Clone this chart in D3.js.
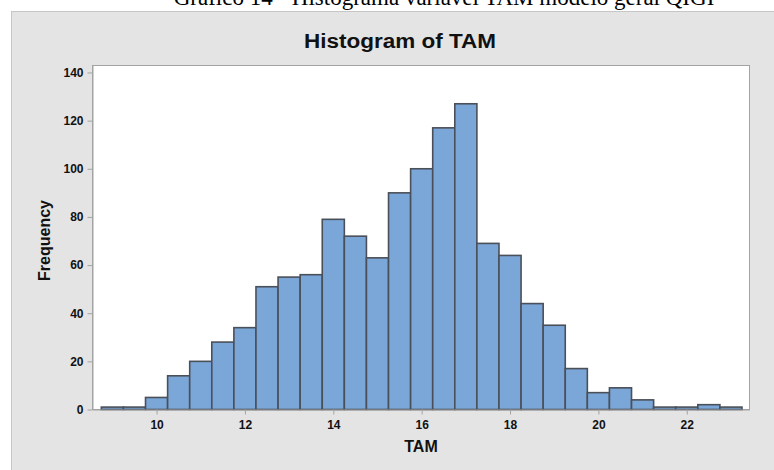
<!DOCTYPE html>
<html>
<head>
<meta charset="utf-8">
<script src="https://cdn.jsdelivr.net/npm/d3@7"></script>
<style>
  html, body { margin: 0; padding: 0; background: #ffffff; }
  svg { display: block; }
  text { font-family: "Liberation Sans", Arial, sans-serif; }
</style>
</head>
<body>
<svg id="chart" width="774" height="470"></svg>
<script>
// Histogram bins of TAM: bin midpoints (width 0.5) and their frequencies
const binMids = [9, 9.5, 10, 10.5, 11, 11.5, 12, 12.5, 13, 13.5, 14, 14.5, 15, 15.5,
                 16, 16.5, 17, 17.5, 18, 18.5, 19, 19.5, 20, 20.5, 21, 21.5, 22, 22.5, 23];
const frequencies = [1, 1, 5, 14, 20, 28, 34, 51, 55, 56, 79, 72, 63, 90,
                     100, 117, 127, 69, 64, 44, 35, 17, 7, 9, 4, 1, 1, 2, 1];
const binWidth = 0.5;
const xTicks = [10, 12, 14, 16, 18, 20, 22];
const yTicks = [0, 20, 40, 60, 80, 100, 120, 140];

const svg = d3.select("#chart");

// caption above the graph panel (partly clipped by the top edge)
svg.append("text")
  .attr("x", 444).attr("y", 5)
  .attr("text-anchor", "middle")
  .style("font-family", "'Liberation Serif', 'Times New Roman', serif")
  .style("font-size", "23px")
  .attr("fill", "#000")
  .text("Gráfico 14 - Histograma variável TAM modelo geral QIGI");

// graph panel
svg.append("rect")
  .attr("x", 11.5).attr("y", 11.5)
  .attr("width", 800).attr("height", 500)
  .attr("fill", "#e4e4e4")
  .attr("stroke", "#c6c6c6");

const plot = { left: 92.5, right: 749.5, top: 65.5, bottom: 409.5 };

const x = d3.scaleLinear().domain([8.55, 23.42]).range([plot.left, plot.right]);
const y = d3.scaleLinear().domain([0, 142.9]).range([plot.bottom, plot.top]);

// plot area
svg.append("rect")
  .attr("x", plot.left).attr("y", plot.top)
  .attr("width", plot.right - plot.left).attr("height", plot.bottom - plot.top)
  .attr("fill", "#ffffff")
  .attr("stroke", "#a3a3a3")
  .attr("stroke-width", 1);

// bars
svg.append("g")
  .selectAll("rect")
  .data(binMids.map((m, i) => ({ mid: m, n: frequencies[i] })))
  .join("rect")
  .attr("x", d => x(d.mid - binWidth / 2))
  .attr("y", d => y(d.n))
  .attr("width", d => x(d.mid + binWidth / 2) - x(d.mid - binWidth / 2))
  .attr("height", d => y(0) - y(d.n))
  .attr("fill", "#7ba6d8")
  .attr("stroke", "#4a5059")
  .attr("stroke-width", 1.6);

// axes
const yAxis = svg.append("g")
  .attr("transform", `translate(${plot.left},0)`)
  .call(d3.axisLeft(y).tickValues(yTicks).tickSize(5).tickPadding(4).tickSizeOuter(0));

const xAxis = svg.append("g")
  .attr("transform", `translate(0,${plot.bottom})`)
  .call(d3.axisBottom(x).tickValues(xTicks).tickSize(5).tickPadding(6).tickSizeOuter(0));

[yAxis, xAxis].forEach(g => {
  g.select(".domain").attr("stroke", "#a3a3a3");
  g.selectAll(".tick line").attr("stroke", "#a3a3a3");
  g.selectAll(".tick text")
    .attr("fill", "#111")
    .style("font-family", "'Liberation Sans', Arial, sans-serif")
    .style("font-size", "12px")
    .style("font-weight", "bold");
});

// title
svg.append("text")
  .attr("x", 400).attr("y", 48)
  .attr("text-anchor", "middle")
  .attr("textLength", 192)
  .attr("lengthAdjust", "spacingAndGlyphs")
  .style("font-size", "19.5px")
  .style("font-weight", "bold")
  .attr("fill", "#111")
  .text("Histogram of TAM");

// axis titles
svg.append("text")
  .attr("x", (plot.left + plot.right) / 2).attr("y", 452)
  .attr("text-anchor", "middle")
  .style("font-size", "16px")
  .style("font-weight", "bold")
  .attr("fill", "#111")
  .text("TAM");

svg.append("text")
  .attr("transform", `translate(50,${(plot.top + plot.bottom) / 2 + 3}) rotate(-90)`)
  .attr("text-anchor", "middle")
  .style("font-size", "16px")
  .style("font-weight", "bold")
  .attr("fill", "#111")
  .text("Frequency");
</script>
</body>
</html>
